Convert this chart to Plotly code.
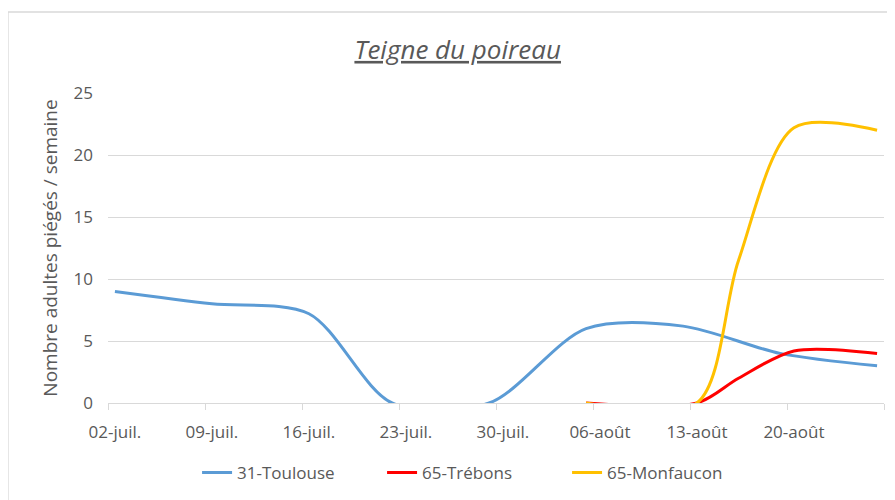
import pandas as pd
import plotly.graph_objects as go

# relevés hebdomadaires
toulouse_dates = ["2018-07-02", "2018-07-09", "2018-07-16", "2018-07-22", "2018-07-29",
                  "2018-08-05", "2018-08-12", "2018-08-19", "2018-08-26"]
toulouse_vals = [9.0, 8.0, 7.2, 0, 0, 6.0, 6.2, 4.0, 3.0]

trebons_dates = ["2018-08-05", "2018-08-13", "2018-08-16", "2018-08-20", "2018-08-26"]
trebons_vals = [0, 0, 2.0, 4.2, 4.0]

monfaucon_dates = ["2018-08-05", "2018-08-13", "2018-08-16", "2018-08-20", "2018-08-26"]
monfaucon_vals = [0, 0, 11.5, 22.2, 22.0]

tick_dates = ["2018-07-02", "2018-07-09", "2018-07-16", "2018-07-23",
              "2018-07-30", "2018-08-06", "2018-08-13", "2018-08-20"]
tick_labels = ["02-juil.", "09-juil.", "16-juil.", "23-juil.",
               "30-juil.", "06-août", "13-août", "20-août"]

GREY = "#595959"
GRID = "#d9d9d9"
FONT = "Open Sans"


def mid_day(dates):
    # comme Excel : le point est au milieu du jour
    return pd.to_datetime(dates) + pd.Timedelta(hours=12)


series = [
    ("31-Toulouse", toulouse_dates, toulouse_vals, "#5b9bd5"),
    ("65-Trébons", trebons_dates, trebons_vals, "#ff0000"),
    ("65-Monfaucon", monfaucon_dates, monfaucon_vals, "#ffc000"),
]

fig = go.Figure()
for name, d, v, col in series:
    fig.add_trace(go.Scatter(x=mid_day(d), y=v, name=name, mode="lines",
                             line=dict(color=col, width=3, shape="spline", smoothing=0.85)))

# la page html ajoute 8px de marge (body) -> figure un peu plus petite
fig.update_layout(
    width=887, height=492,
    margin=dict(l=100, r=11, t=85, b=97, autoexpand=False),
    paper_bgcolor="white", plot_bgcolor="white",
    font=dict(family=FONT, color=GREY, size=17),
    title=dict(text="Teigne du poireau", x=0.507, xref="container", xanchor="center",
               y=0.915, yref="container", yanchor="middle",
               font=dict(size=26, style="italic", lineposition="under", color=GREY)),
    legend=dict(orientation="h", x=0.526, xref="container", xanchor="center",
                y=0.055, yref="container", yanchor="middle",
                font=dict(size=17, color=GREY), entrywidth=140),
    showlegend=True,
)

fig.update_xaxes(
    type="date", automargin=False,
    range=["2018-07-02", "2018-08-27"],
    tickmode="array", tickvals=mid_day(tick_dates), ticktext=tick_labels,
    ticks="", ticklabelstandoff=14,
    showgrid=False, zeroline=False,
    showline=True, linecolor=GRID, linewidth=1,
    minor=dict(tick0="2018-07-02", dtick=7 * 86400000, ticks="outside",
               ticklen=6, tickwidth=1, tickcolor=GRID, showgrid=False),
)
fig.update_yaxes(
    automargin=False,
    range=[0, 25], dtick=5, showgrid=True, gridcolor=GRID, gridwidth=1,
    zeroline=False, showline=False, ticks="", ticklabelstandoff=14,
    title=dict(text="Nombre adultes piégés / semaine", standoff=10,
               font=dict(size=19, color=GREY)),
)

# cadre de la zone du graphique
fig.add_shape(type="rect", xref="paper", yref="paper",
              x0=-0.129, x1=1.03, y0=-0.34, y1=1.261,
              line=dict(color=GRID, width=1.5), layer="below")

fig.write_html("out.html")
